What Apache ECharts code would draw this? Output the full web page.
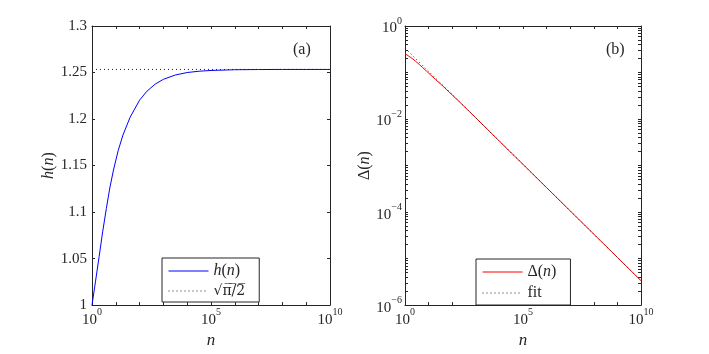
<!DOCTYPE html>
<html><head><meta charset="utf-8">
<script src="https://cdn.jsdelivr.net/npm/echarts@6/dist/echarts.min.js"></script>
<style>html,body{margin:0;padding:0;background:#fff}#c{width:709px;height:354px}</style>
</head><body><div id="c"></div>
<script>
// ---- data ----
const nValues = [1, 1.41, 2, 2.8, 4, 5.6, 8, 12.6, 20, 40, 100, 200, 450, 1000, 3160, 1e4, 3.16e4, 1e5, 1e6, 1e7, 1e8, 1e9, 1e10];
const hValues = [1.000, 1.0258, 1.0524, 1.0787, 1.1037, 1.1259, 1.1452, 1.1662, 1.1828, 1.2020, 1.2203, 1.2297, 1.2375, 1.2427, 1.2473, 1.2500, 1.2514, 1.2522, 1.2530, 1.2532, 1.2533, 1.2533, 1.2533];
const limitN = [1, 1e10];
const limitValues = [1.2533, 1.2533];
const deltaValues = [0.2535, 0.2275, 0.2009, 0.1746, 0.1496, 0.1274, 0.1081, 0.0871, 0.0705, 0.0513, 0.0330, 0.0236, 0.0158, 0.0106, 0.00596, 0.00335, 0.00188, 0.00106, 3.35e-4, 1.06e-4, 3.35e-5, 1.06e-5, 3.35e-6];
const fitN = [1, 1e10];
const fitValues = [0.335, 3.35e-6];
const xLabelExponents = [0, 5, 10];
const yLabelsA = ['1', '1.05', '1.1', '1.15', '1.2', '1.25', '1.3'];
const yLabelExponentsB = [-6, -4, -2, 0];

// ---- styling ----
const FONT = '"Liberation Serif", "DejaVu Serif", serif';
const AX = '#262626';
const zip = (a, b) => a.map((v, i) => [v, b[i]]);
const powRich = {
  b: { fontFamily: FONT, fontSize: 15, color: AX, lineHeight: 20, verticalAlign: 'bottom' },
  s: { fontFamily: FONT, fontSize: 10, color: AX, lineHeight: 10, verticalAlign: 'top' }
};
const nameRich = {
  i: { fontFamily: FONT, fontSize: 16, fontStyle: 'italic', color: AX },
  r: { fontFamily: FONT, fontSize: 16, color: AX },
  q: { fontFamily: '"DejaVu Serif", serif', fontSize: 14, color: AX }
};
function expOf(v) { return Math.round(Math.log10(v)); }
function powLabel(list) {
  return function (v) {
    const e = expOf(v);
    if (list.indexOf(e) < 0) return '';
    return '{b|10}{s|' + String(e).replace('-', '\u2212') + '}';
  };
}
const tickStyle = { show: true, inside: true, length: 3, lineStyle: { color: AX, width: 1 } };
const lineStyle = { show: true, onZero: false, lineStyle: { color: AX, width: 1 } };

function logX(grid, pos, labels) {
  return {
    type: 'log', logBase: 10, gridIndex: grid, position: pos, min: 1, max: 1e10, interval: 1,
    axisLine: lineStyle, axisTick: tickStyle, splitLine: { show: false },
    axisLabel: { show: labels, interval: 0, margin: 2, formatter: powLabel(xLabelExponents), rich: powRich },
    name: labels ? 'n' : '', nameLocation: 'middle', nameGap: 23,
    nameTextStyle: { fontFamily: FONT, fontSize: 17, fontStyle: 'italic', color: AX }
  };
}
const minorExps = [];
for (let e = -6; e < 0; e++) for (let k = 2; k <= 9; k++) minorExps.push(e + Math.log10(k));

const legendBase = {
  orient: 'vertical', padding: [5, 14, 4, 6], itemGap: 5, itemWidth: 40, itemHeight: 14,
  backgroundColor: '#fff', borderColor: AX, borderWidth: 1, borderRadius: 0, selectedMode: false,
  itemStyle: { opacity: 0 }, lineStyle: { width: 1 }, textStyle: { rich: nameRich }
};

const option = {
  animation: false,
  backgroundColor: '#fff',
  grid: [
    { left: 92, top: 26, width: 238, height: 286 },
    { left: 405, top: 26, width: 236, height: 286 }
  ],
  xAxis: [logX(0, 'bottom', true), logX(0, 'top', false), logX(1, 'bottom', true), logX(1, 'top', false)],
  yAxis: [
    { type: 'value', gridIndex: 0, position: 'left', min: 1, max: 1.3, interval: 0.05,
      axisLine: lineStyle, axisTick: tickStyle, splitLine: { show: false },
      axisLabel: { margin: 5, fontFamily: FONT, fontSize: 15, color: AX, formatter: (v, i) => yLabelsA[i] },
      name: '{i|h}{r|(}{i|n}{r|)}', nameLocation: 'middle', nameGap: 31, nameTextStyle: { rich: nameRich } },
    { type: 'value', gridIndex: 0, position: 'right', min: 1, max: 1.3, interval: 0.05,
      axisLine: lineStyle, axisTick: tickStyle, splitLine: { show: false }, axisLabel: { show: false } },
    { type: 'log', logBase: 10, gridIndex: 1, position: 'left', min: 1e-6, max: 1, interval: 1,
      axisLine: lineStyle, axisTick: tickStyle, splitLine: { show: false },
      axisLabel: { interval: 0, margin: 3, formatter: powLabel(yLabelExponentsB), rich: powRich },
      name: '{r|\u0394}{r|(}{i|n}{r|)}', nameLocation: 'middle', nameGap: 24, nameTextStyle: { rich: nameRich } },
    { type: 'log', logBase: 10, gridIndex: 1, position: 'right', min: 1e-6, max: 1, interval: 1,
      axisLine: lineStyle, axisTick: tickStyle, splitLine: { show: false }, axisLabel: { show: false } },
    { type: 'value', gridIndex: 1, position: 'left', min: -6, max: 0,
      axisLine: { show: false }, splitLine: { show: false }, axisLabel: { show: false },
      axisTick: Object.assign({}, tickStyle, { customValues: minorExps }) },
    { type: 'value', gridIndex: 1, position: 'right', min: -6, max: 0,
      axisLine: { show: false }, splitLine: { show: false }, axisLabel: { show: false },
      axisTick: Object.assign({}, tickStyle, { customValues: minorExps }) }
  ],
  legend: [
    Object.assign({}, legendBase, {
      left: 162, top: 258,
      data: ['h(n)', '\u221A(\u03C0/2)'],
      formatter: function (name) {
        return name === 'h(n)' ? '{i|h}{r|(}{i|n}{r|)}' : '{q|\u221A\u03C0\u0305/\u03052\u0305}';
      }
    }),
    Object.assign({}, legendBase, {
      left: 476, top: 259,
      data: ['\u0394(n)', 'fit'],
      formatter: function (name) {
        return name === 'fit' ? '{r|fit}' : '{r|\u0394(}{i|n}{r|)}';
      }
    })
  ],
  graphic: [
    { type: 'text', left: 293, top: 42, style: { text: '(a)', font: '16px ' + FONT, fill: AX } },
    { type: 'text', left: 606, top: 42, style: { text: '(b)', font: '16px ' + FONT, fill: AX } }
  ],
  series: [
    { name: '\u221A(\u03C0/2)', type: 'line', xAxisIndex: 0, yAxisIndex: 0, data: zip(limitN, limitValues),
      symbol: 'none', lineStyle: { color: '#222', width: 1, type: [1, 3] }, itemStyle: { color: '#222' } },
    { name: 'h(n)', type: 'line', xAxisIndex: 0, yAxisIndex: 0, data: zip(nValues, hValues),
      symbol: 'none', lineStyle: { color: '#0000ff', width: 1 }, itemStyle: { color: '#0000ff' } },
    { name: '\u0394(n)', type: 'line', xAxisIndex: 2, yAxisIndex: 2, data: zip(nValues, deltaValues),
      symbol: 'none', lineStyle: { color: '#ff0000', width: 1 }, itemStyle: { color: '#ff0000' } },
    { name: 'fit', type: 'line', xAxisIndex: 2, yAxisIndex: 2, data: zip(fitN, fitValues),
      symbol: 'none', lineStyle: { color: '#222', width: 1, type: [1, 3] }, itemStyle: { color: '#222' } }
  ]
};
const chart = echarts.init(document.getElementById('c'), null, { renderer: 'canvas' });
chart.setOption(option);
</script>
</body></html>
